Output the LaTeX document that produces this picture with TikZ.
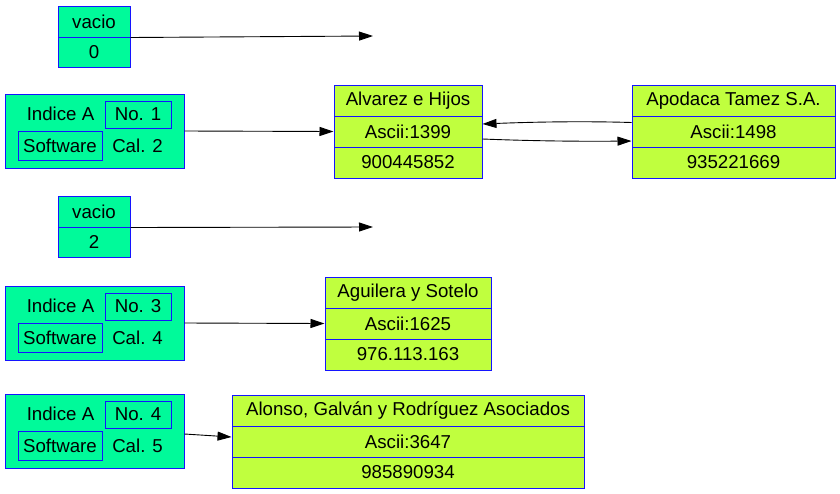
\documentclass[tikz,border=0pt]{standalone}
\usepackage{fontspec}
\setmainfont{Liberation Sans}
\usetikzlibrary{arrows.meta,calc}
\definecolor{sgreen}{HTML}{00FA9A}
\definecolor{lgreen}{HTML}{C0FF3E}
\definecolor{bord}{HTML}{1414FF}
\tikzset{
  txt/.style={font=\fontsize{18.67}{22}\selectfont, text=black, inner sep=0pt},
  gcell/.style={txt, draw=bord, fill=sgreen, line width=1pt, minimum width=#1, anchor=center},
  lcell/.style={txt, draw=bord, fill=lgreen, line width=1pt, minimum width=#1, minimum height=31, anchor=center},
  inbox/.style={txt, draw=bord, line width=1pt, anchor=center},
  edge/.style={draw=black, line width=0.9pt, -{Triangle[length=14pt,width=9pt]}}
}
\begin{document}
\begin{tikzpicture}[x=1pt,y=-1pt]
\useasboundingbox (0,0) rectangle (840,493);

% vacio 0
\node[gcell=72, minimum height=31] (v0a) at (94,21.5) {vacio};
\node[gcell=72, minimum height=30] (v0b) at (94,52) {0};
\coordinate (e0) at (373,36);
\draw[edge] (v0a.south east) -- (e0);

% vacio 2
\node[gcell=72, minimum height=31] (v2a) at (94,211.5) {vacio};
\node[gcell=72, minimum height=30] (v2b) at (94,242) {2};
\coordinate (e2) at (373,227);
\draw[edge] (v2a.south east) -- (e2);

% Indice 1
\node[gcell=179, minimum height=74] (ind1) at (94.5,131) {};
\node[txt] (ind1a) at (60.5,114) {Indice A};
\node[inbox, minimum width=66, minimum height=27] (ind1no) at (138,114.5) {No. 1};
\node[inbox, minimum width=84, minimum height=29] (ind1sw) at (60,145.5) {Software};
\node[txt] (ind1cal) at (137.5,145.5) {Cal. 2};

% Indice 3
\node[gcell=179, minimum height=74] (ind3) at (94.5,323) {};
\node[txt] (ind3a) at (60.5,306) {Indice A};
\node[inbox, minimum width=66, minimum height=27] (ind3no) at (138,306.5) {No. 3};
\node[inbox, minimum width=84, minimum height=29] (ind3sw) at (60,337.5) {Software};
\node[txt] (ind3cal) at (137.5,337.5) {Cal. 4};

% Indice 4
\node[gcell=179, minimum height=74] (ind4) at (94.5,431) {};
\node[txt] (ind4a) at (60.5,414) {Indice A};
\node[inbox, minimum width=66, minimum height=27] (ind4no) at (138,414.5) {No. 4};
\node[inbox, minimum width=84, minimum height=29] (ind4sw) at (60,445.5) {Software};
\node[txt] (ind4cal) at (137.5,445.5) {Cal. 5};

% Alvarez
\node[lcell=148] (alv1) at (408,100.5) {Alvarez e Hijos};
\node[lcell=148] (alv2) at (408,131.5) {Ascii:1399};
\node[lcell=148] (alv3) at (408,162.5) {900445852};

% Apodaca
\node[lcell=203] (apo1) at (733.5,100.5) {Apodaca Tamez S.A.};
\node[lcell=203] (apo2) at (733.5,131.5) {Ascii:1498};
\node[lcell=203] (apo3) at (733.5,162.5) {935221669};

% Aguilera
\node[lcell=166] (agu1) at (408,292.5) {Aguilera y Sotelo};
\node[lcell=166] (agu2) at (408,323.5) {Ascii:1625};
\node[lcell=166] (agu3) at (408,354.5) {976.113.163};

% Alonso
\node[lcell=352] (alo1) at (408,410.5) {Alonso, Galván y Rodríguez Asociados};
\node[lcell=352] (alo2) at (408,441.5) {Ascii:3647};
\node[lcell=352] (alo3) at (408,472.5) {985890934};

% edges
\draw[edge] (ind1.east) -- (alv2.west);
\draw[edge] (ind3.east) -- (agu2.west);
\draw[edge] ($(ind4.east)+(0,3)$) -- ($(alo2.west)+(0,-4.5)$);
\draw[edge] ($(apo2.west)+(0,-9)$) .. controls ($(apo2.west)+(-50,-10.5)$) and ($(alv2.east)+(50,-9.5)$) .. ($(alv2.east)+(0,-7.5)$);
\draw[edge] ($(alv2.east)+(0,7.5)$) .. controls ($(alv2.east)+(50,9.5)$) and ($(apo2.west)+(-50,10)$) .. ($(apo2.west)+(0,9.5)$);
\end{tikzpicture}
\end{document}
